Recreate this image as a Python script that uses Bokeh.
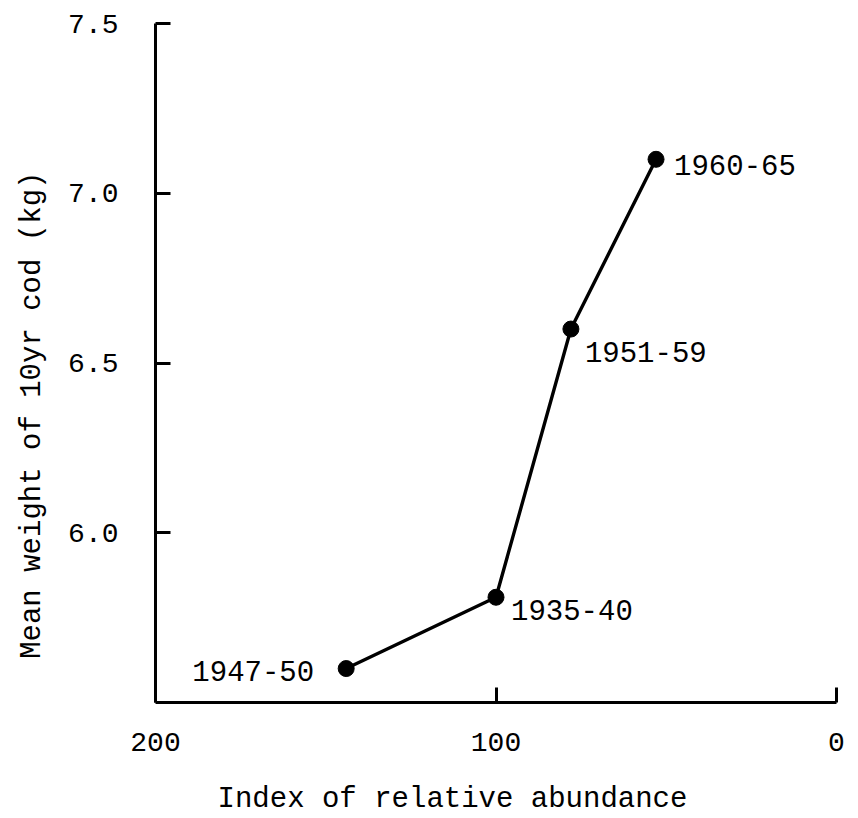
from bokeh.plotting import figure
from bokeh.models import Range1d, FixedTicker, ColumnDataSource
from bokeh.core.properties import value
from bokeh.embed import file_html
from bokeh.resources import INLINE

# Data
periods = ["1947-50", "1935-40", "1951-59", "1960-65"]
abundance = [144, 100, 78, 53]
weight = [5.60, 5.81, 6.60, 7.10]

x_ticks = [200, 100, 0]
x_tick_labels = ["200", "100", "0"]
y_ticks = [6.0, 6.5, 7.0, 7.5]
y_tick_labels = ["6.0", "6.5", "7.0", "7.5"]

x_title = "Index of relative abundance"
y_title = "Mean weight of 10yr cod (kg)"

FONT = "Liberation Mono"
PAD = "\u00a0"  # trailing no-break spaces shift the centred titles like the reference

p = figure(width=850, height=818,
           x_range=Range1d(200, 0), y_range=Range1d(5.5, 7.5),
           output_backend="svg", toolbar_location=None,
           min_border_left=155, min_border_right=14,
           min_border_top=23, min_border_bottom=116)
p.outline_line_color = None
p.xgrid.visible = False
p.ygrid.visible = False
p.background_fill_color = "white"
p.border_fill_color = "white"

# label placement (screen pixel offsets) per point
x_off = [-32, 15, 14, 18]
y_off = [2, 13, 23, 6]
align = ["right", "left", "left", "left"]

src = ColumnDataSource(dict(x=abundance, y=weight, t=periods,
                            xo=x_off, yo=y_off, al=align))

p.line("x", "y", source=src, line_color="black", line_width=3.4)
p.scatter("x", "y", source=src, size=16, fill_color="black", line_color="black")
p.text("x", "y", text="t", source=src, x_offset="xo", y_offset="yo",
       text_align="al", text_baseline="middle",
       text_font=value(FONT), text_font_size="29px", text_color="black")

for ax in (p.xaxis[0], p.yaxis[0]):
    ax.axis_line_width = 3
    ax.axis_line_color = "black"
    ax.major_tick_line_width = 3
    ax.major_tick_line_color = "black"
    ax.major_tick_in = 15
    ax.major_tick_out = 0
    ax.minor_tick_line_color = None
    ax.major_label_text_font = FONT
    ax.major_label_text_font_size = "28px"
    ax.major_label_text_color = "black"
    ax.axis_label_text_font = FONT
    ax.axis_label_text_font_size = "29px"
    ax.axis_label_text_font_style = "normal"
    ax.axis_label_text_color = "black"

p.xaxis[0].ticker = FixedTicker(ticks=x_ticks)
p.xaxis[0].major_label_overrides = {t: l for t, l in zip(x_ticks, x_tick_labels)}
p.yaxis[0].ticker = FixedTicker(ticks=y_ticks)
p.yaxis[0].major_label_overrides = {t: l for t, l in zip(y_ticks, y_tick_labels)}

p.xaxis[0].axis_label = x_title + PAD * 5
p.yaxis[0].axis_label = y_title + PAD * 6
p.xaxis[0].major_label_standoff = 30
p.xaxis[0].axis_label_standoff = 29
p.yaxis[0].major_label_standoff = 37
p.yaxis[0].axis_label_standoff = 16

open("out.html", "w").write(file_html(p, INLINE))
